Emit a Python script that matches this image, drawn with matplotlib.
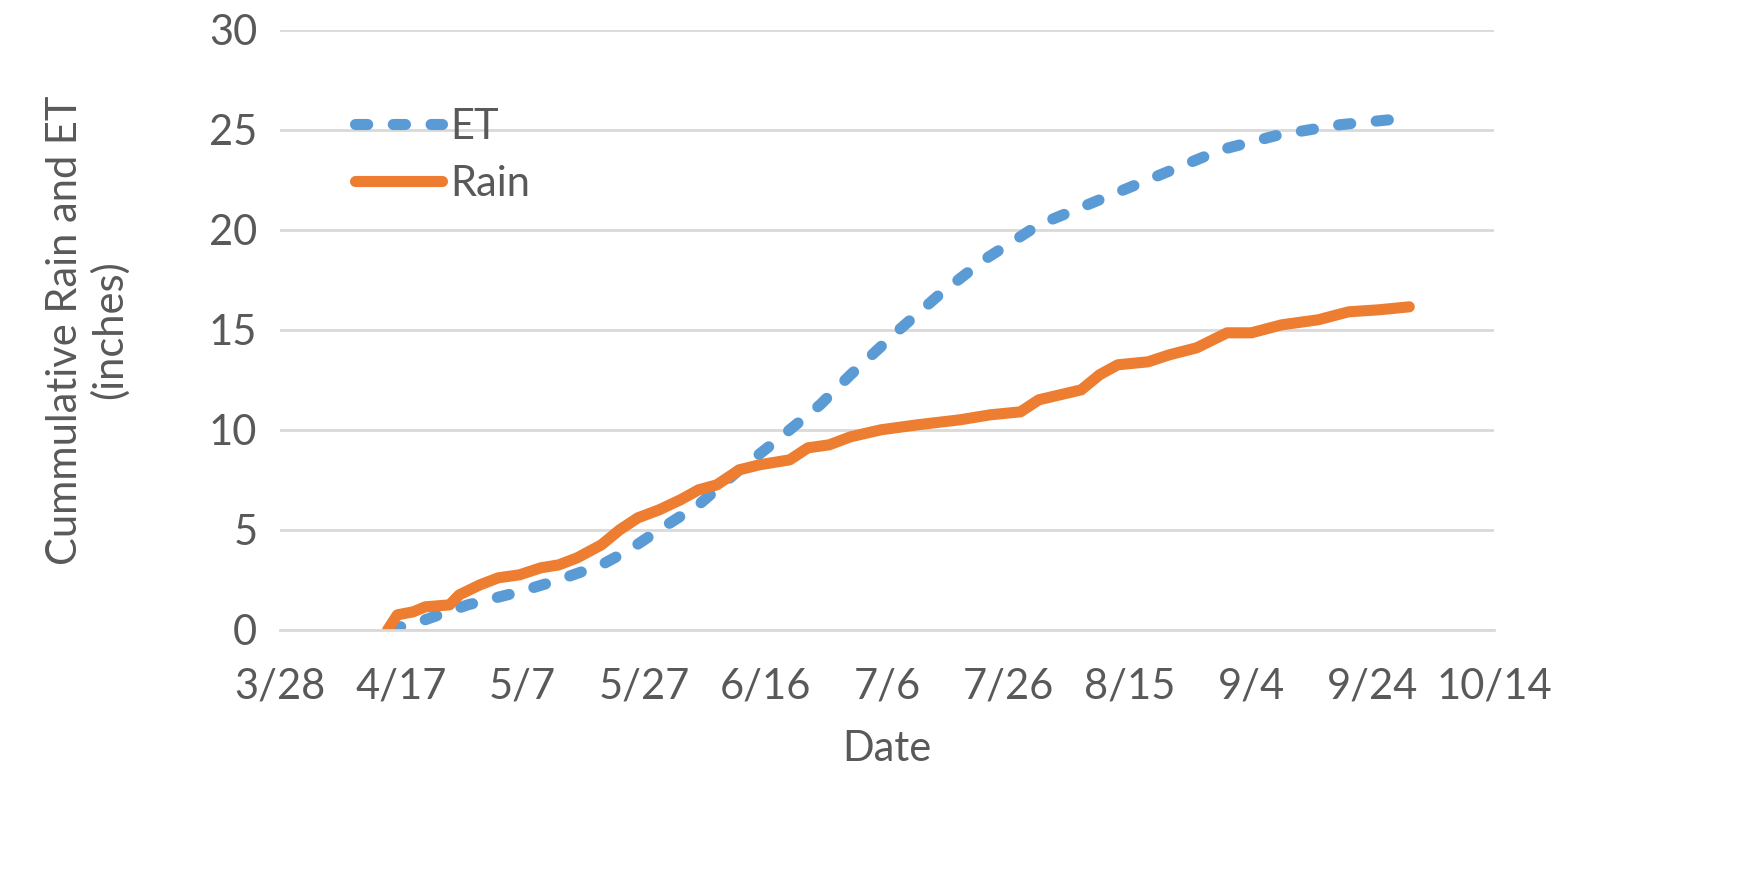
import matplotlib
matplotlib.use('Agg')
import matplotlib.pyplot as plt
import matplotlib.dates as mdates
import pandas as pd

# days after 3/28
et_day = [18, 23, 31, 39.5, 46, 53, 57.6, 62.5, 69, 75.7, 82, 89, 94, 102, 108.6, 116,
          125, 135, 145, 155, 164.6, 174.5, 186]
et_val = [0, 0.4, 1.25, 1.9, 2.5, 3.25, 4.0, 5.0, 6.25, 8.0, 9.5, 11.25, 12.75, 15.0, 16.75,
          18.5, 20.25, 21.5, 22.75, 24.0, 24.75, 25.25, 25.6]

rain_day = [17.8, 19.4, 22, 24, 28, 29.6, 33, 36, 39.5, 43, 46, 49, 53, 56, 59, 62.5, 66, 69,
            72, 75.7, 79, 84, 87, 90.5, 94, 99, 105, 112, 117, 122, 125, 132, 135, 138, 143,
            146.5, 151, 156, 160, 165, 171, 176, 181, 186]
rain_val = [0, 0.75, 0.9, 1.15, 1.25, 1.75, 2.25, 2.6, 2.75, 3.1, 3.25, 3.6, 4.25, 5.0, 5.6,
            6.0, 6.5, 7.0, 7.25, 8.0, 8.25, 8.5, 9.1, 9.25, 9.65, 10.0, 10.25, 10.5, 10.75,
            10.9, 11.5, 12.0, 12.75, 13.25, 13.4, 13.75, 14.1, 14.85, 14.85, 15.25, 15.5,
            15.9, 16.0, 16.15]

start = pd.Timestamp('2019-03-28')
et_dates = start + pd.to_timedelta(et_day, unit='D')
rain_dates = start + pd.to_timedelta(rain_day, unit='D')
tick_dates = pd.date_range(start, periods=11, freq='20D')

plt.rcParams['font.family'] = ['Lato', 'DejaVu Sans']
txt = '#595959'
fs = 30

fig = plt.figure(figsize=(17.58, 8.76), dpi=100)
ax = fig.add_axes([0.159, 0.281, 0.691, 0.685])

ax.plot(et_dates, et_val, color='#5b9bd5', lw=8, ls=(0, (1.1, 2.3)),
        dash_capstyle='round', solid_capstyle='round', label='ET')
ax.plot(rain_dates, rain_val, color='#ed7d31', lw=8, solid_capstyle='round',
        solid_joinstyle='round', label='Rain')

ax.set_xlim(tick_dates[0], tick_dates[-1])
ax.set_ylim(0, 30)
ax.set_xticks(tick_dates)
ax.xaxis.set_major_formatter(mdates.DateFormatter('%-m/%-d'))
ax.set_yticks(range(0, 31, 5))
ax.grid(axis='y', color='#d9d9d9', lw=2)
ax.set_axisbelow(True)
for s in ['top', 'right', 'left']:
    ax.spines[s].set_visible(False)
ax.spines['bottom'].set_color('#d9d9d9')
ax.spines['bottom'].set_linewidth(2)
ax.tick_params(axis='y', length=0, labelsize=fs, labelcolor=txt, pad=16)
ax.tick_params(axis='x', length=0, labelsize=fs, labelcolor=txt, pad=27)

ax.set_xlabel('Date', fontsize=fs, color=txt, labelpad=18)
ax.set_ylabel('Cummulative Rain and ET\n(inches)', fontsize=fs, color=txt, labelpad=58,
              linespacing=1.15)

ax.legend(loc='upper left', bbox_to_anchor=(0.062, 0.87), frameon=False, fontsize=fs,
          labelcolor=txt, handlelength=2.1, handletextpad=0.2, labelspacing=0.45,
          borderpad=0, borderaxespad=0)

fig.savefig('out.png', dpi=100)
